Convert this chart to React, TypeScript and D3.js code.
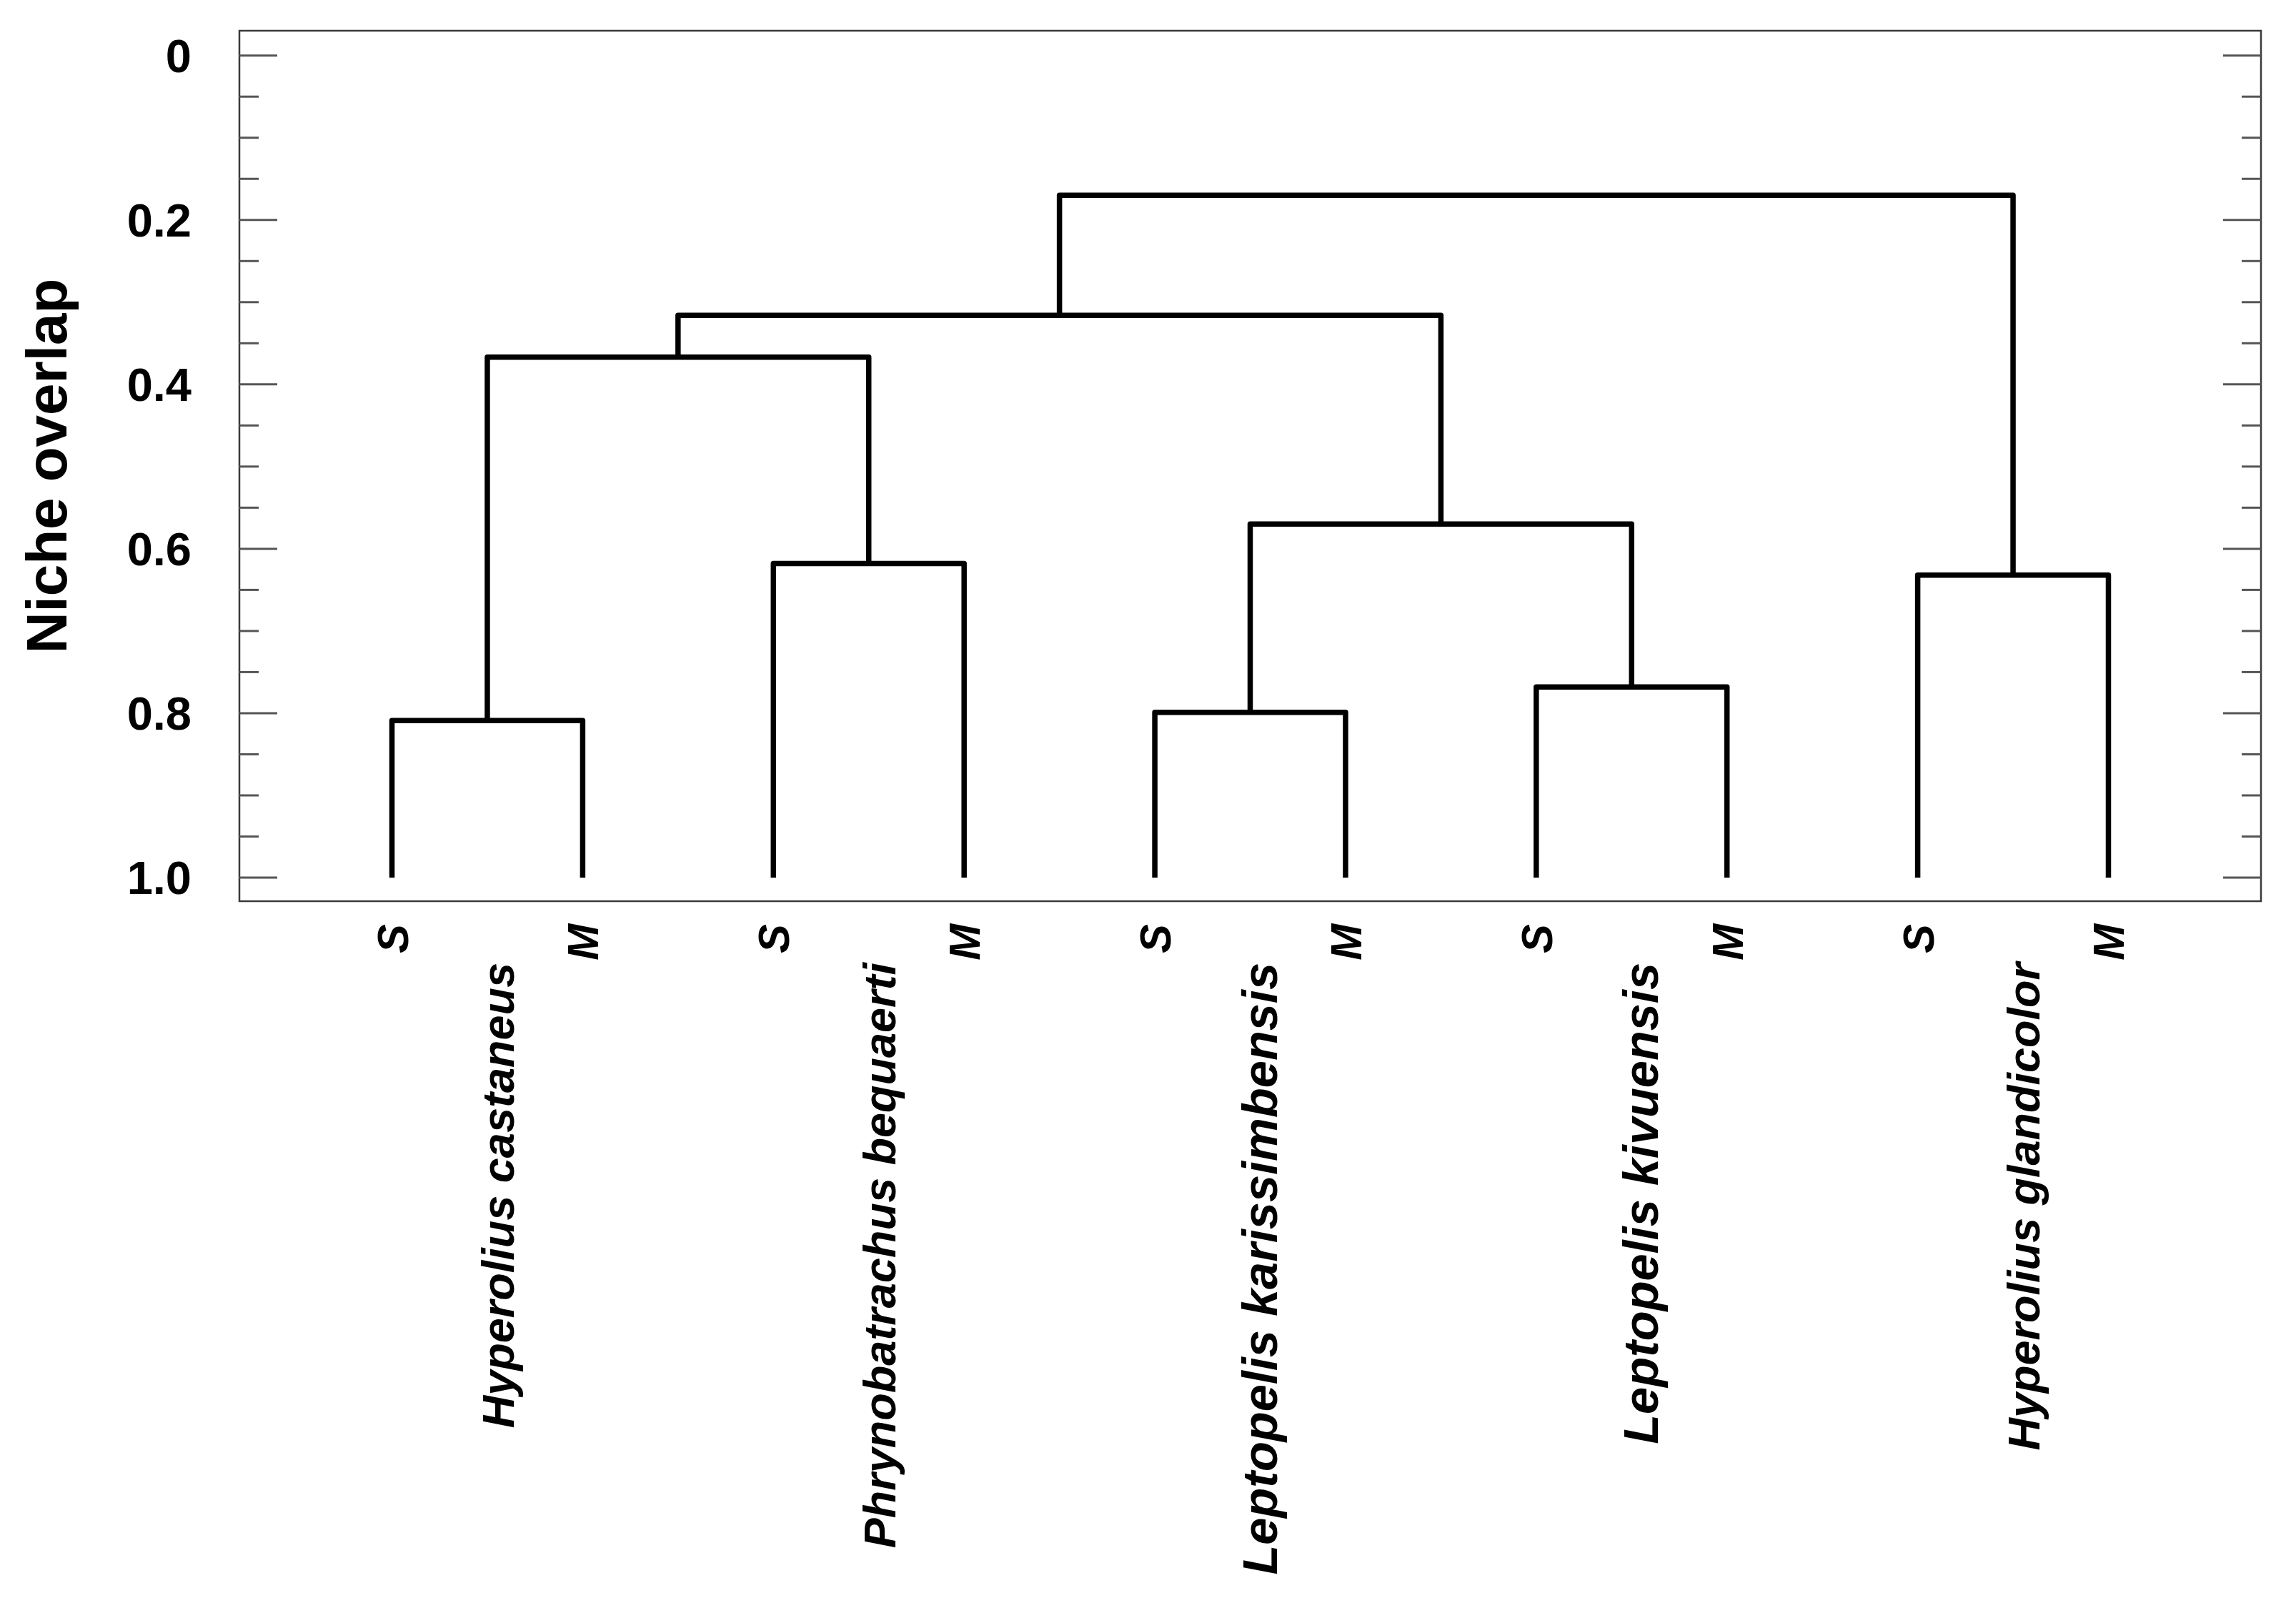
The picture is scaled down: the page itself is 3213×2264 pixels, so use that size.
import React, { useEffect, useRef } from 'react';
import * as d3 from 'd3';

// species in dendrogram order, each sampled in two seasons
const species = [
  'Hyperolius castaneus',
  'Phrynobatrachus bequaerti',
  'Leptopelis karissimbensis',
  'Leptopelis kivuensis',
  'Hyperolius glandicolor',
];
const seasons = ['S', 'M'];
// overlap at which the S and M samples of each species join
const seasonOverlap = [0.809, 0.618, 0.799, 0.768, 0.632];

// higher level joins (children are species names or earlier join ids)
const joins = [
  { id: 'castaneus+bequaerti', children: ['Hyperolius castaneus', 'Phrynobatrachus bequaerti'], overlap: 0.367 },
  { id: 'Leptopelis', children: ['Leptopelis karissimbensis', 'Leptopelis kivuensis'], overlap: 0.57 },
  { id: 'group', children: ['castaneus+bequaerti', 'Leptopelis'], overlap: 0.316 },
  { id: 'root', children: ['group', 'Hyperolius glandicolor'], overlap: 0.17 },
];

const yTickValues = [0, 0.2, 0.4, 0.6, 0.8, 1.0];
const yTickLabels = ['0', '0.2', '0.4', '0.6', '0.8', '1.0'];

const W = 3213;
const H = 2264;
const frame = { left: 335, right: 3164, top: 43, bottom: 1261 };
const font = '"Liberation Sans", Arial, Helvetica, sans-serif';
// the Leptopelis names are set a little larger in the original
const speciesFontSize = (name: string) => (name.startsWith('Leptopelis') ? 68.5 : 63);

const App = () => {
  const svgRef = useRef<SVGSVGElement>(null);

  useEffect(() => {
    if (!svgRef.current) return;
    const svg = d3.select(svgRef.current);
    svg.selectAll('*').remove();

    // build the tree
    const nodes: Record<string, any> = {};
    species.forEach((sp, i) => {
      nodes[sp] = {
        name: sp,
        overlap: seasonOverlap[i],
        children: seasons.map(s => ({ name: `${sp}|${s}`, season: s, overlap: 1 })),
      };
    });
    joins.forEach(j => {
      nodes[j.id] = { name: j.id, overlap: j.overlap, children: j.children.map(c => nodes[c]) };
    });
    const root = d3.hierarchy(nodes['root']);
    const leaves = root.leaves();

    const x = d3.scalePoint<string>()
      .domain(leaves.map(l => l.data.name))
      .range([frame.left, frame.right])
      .padding(0.8);
    const y = d3.scaleLinear().domain([0, 1]).range([77.7, 1228]);

    root.eachAfter((n: any) => {
      n.px = n.children ? d3.mean(n.children, (c: any) => c.px) : x(n.data.name);
      n.py = y(n.data.overlap);
    });

    // frame
    svg.append('rect')
      .attr('x', frame.left).attr('y', frame.top)
      .attr('width', frame.right - frame.left).attr('height', frame.bottom - frame.top)
      .attr('fill', 'none').attr('stroke', '#3a3a3a').attr('stroke-width', 2.5);

    // ticks on both sides, pointing inward
    const minor = y.ticks(20);
    const ticks = svg.append('g').attr('stroke', '#555').attr('stroke-width', 3);
    minor.forEach(v => {
      const major = yTickValues.some(t => Math.abs(t - v) < 1e-6);
      const len = major ? 53 : 27;
      ticks.append('line')
        .attr('x1', frame.left).attr('x2', frame.left + len)
        .attr('y1', y(v)).attr('y2', y(v));
      ticks.append('line')
        .attr('x1', frame.right).attr('x2', frame.right - len)
        .attr('y1', y(v)).attr('y2', y(v));
    });

    // tick labels
    svg.append('g')
      .selectAll('text')
      .data(yTickValues)
      .enter()
      .append('text')
      .attr('x', 268)
      .attr('y', d => y(d) + 23)
      .attr('text-anchor', 'end')
      .attr('font-family', font)
      .attr('font-weight', 'bold')
      .attr('font-size', 65)
      .text((_, i) => yTickLabels[i]);

    // axis title
    svg.append('text')
      .attr('transform', `translate(93, ${(frame.top + frame.bottom) / 2}) rotate(-90)`)
      .attr('text-anchor', 'middle')
      .attr('font-family', font)
      .attr('font-weight', 'bold')
      .attr('font-size', 80)
      .text('Niche overlap');

    // dendrogram links
    const links = svg.append('g')
      .attr('fill', 'none')
      .attr('stroke', '#000')
      .attr('stroke-width', 7.5)
      .attr('stroke-linejoin', 'round');
    root.descendants().filter((n: any) => n.children).forEach((n: any) => {
      const [a, b] = n.children;
      const p = d3.path();
      p.moveTo(a.px, a.py);
      p.lineTo(a.px, n.py);
      p.lineTo(b.px, n.py);
      p.lineTo(b.px, b.py);
      links.append('path').attr('d', p.toString());
    });

    // season labels
    svg.append('g')
      .selectAll('text')
      .data(leaves)
      .enter()
      .append('text')
      .attr('transform', (d: any) => `translate(${d.px + 22}, 1293) rotate(-90)`)
      .attr('text-anchor', 'end')
      .attr('font-family', font)
      .attr('font-weight', 'bold')
      .attr('font-style', 'italic')
      .attr('font-size', 61)
      .text((d: any) => d.data.season);

    // species labels
    const spNodes = species.map(sp => root.descendants().find(n => n.data.name === sp) as any);
    svg.append('g')
      .selectAll('text')
      .data(spNodes)
      .enter()
      .append('text')
      .attr('transform', (d: any) => `translate(${d.px + 37}, 1347) rotate(-90)`)
      .attr('text-anchor', 'end')
      .attr('font-family', font)
      .attr('font-weight', 'bold')
      .attr('font-style', 'italic')
      .attr('font-size', (d: any) => speciesFontSize(d.data.name))
      .text((d: any) => d.data.name);
  }, []);

  return (
    <div style={{ position: 'absolute', left: 0, top: 0, background: '#fff' }}>
      <svg ref={svgRef} width={W} height={H} viewBox={`0 0 ${W} ${H}`} style={{ display: 'block' }} />
    </div>
  );
};

export default App;
